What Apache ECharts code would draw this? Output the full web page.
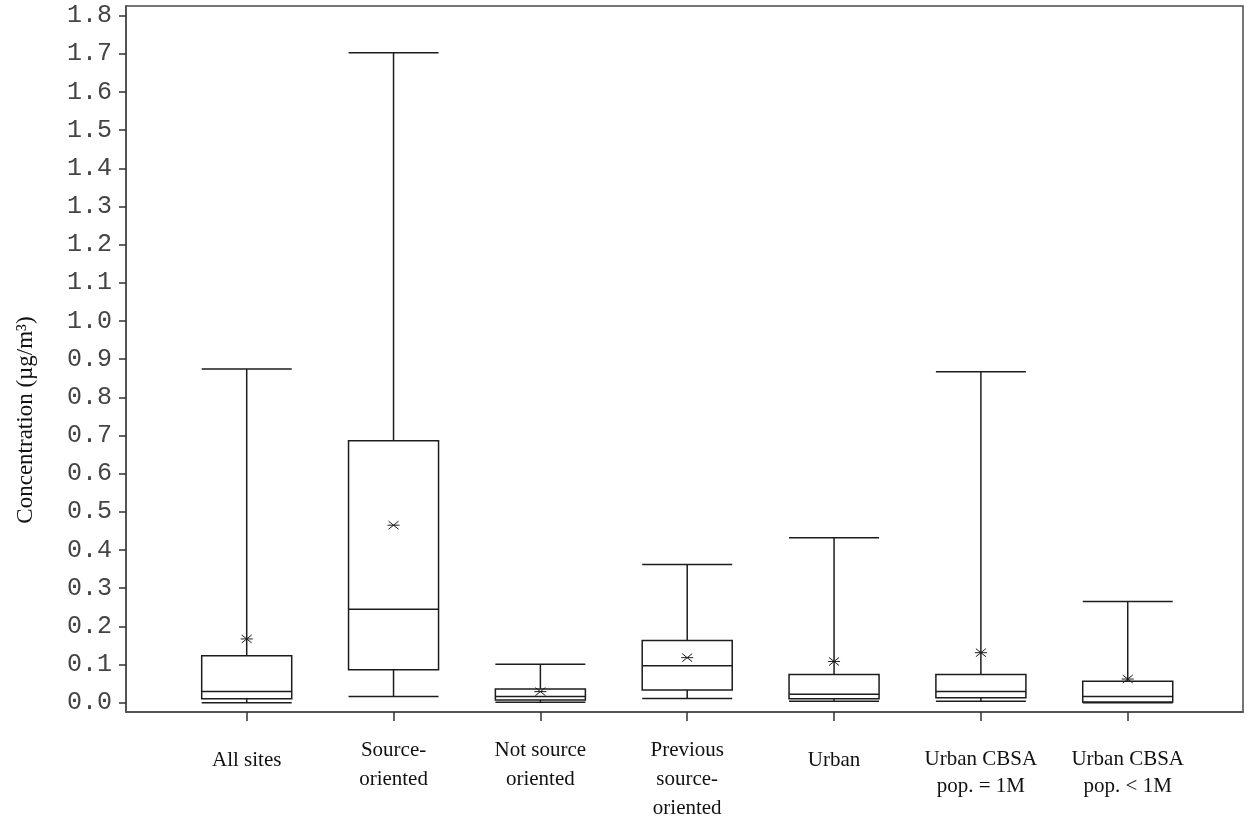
<!DOCTYPE html>
<html>
<head>
<meta charset="utf-8">
<script src="https://cdn.jsdelivr.net/npm/echarts@6/dist/echarts.min.js"></script>
<style>
  html, body { margin: 0; padding: 0; background: #fff; }
  #chart { width: 1247px; height: 822px; }
</style>
</head>
<body>
<div id="chart"></div>
<script>
// Site groups along the horizontal axis
const categories = [
  'All sites',
  'Source-\noriented',
  'Not source\noriented',
  'Previous\nsource-\noriented',
  'Urban',
  'Urban CBSA\npop. = 1M',
  'Urban CBSA\npop. < 1M'
];

// Box statistics per group (µg/m³)
const whiskerLow  = [0.000, 0.016, 0.001, 0.011, 0.004, 0.004, 0.000];
const q1          = [0.010, 0.086, 0.007, 0.033, 0.010, 0.013, 0.002];
const median      = [0.029, 0.245, 0.016, 0.097, 0.022, 0.029, 0.016];
const q3          = [0.123, 0.686, 0.036, 0.163, 0.074, 0.074, 0.056];
const whiskerHigh = [0.874, 1.703, 0.101, 0.362, 0.432, 0.867, 0.265];
const mean        = [0.167, 0.465, 0.029, 0.118, 0.108, 0.131, 0.062];

// Y tick values
const yTicks = [0.0, 0.1, 0.2, 0.3, 0.4, 0.5, 0.6, 0.7, 0.8, 0.9,
                1.0, 1.1, 1.2, 1.3, 1.4, 1.5, 1.6, 1.7, 1.8];

const positions = categories.map((_, i) => i + 1);
const boxData = positions.map((p, i) =>
  [p, whiskerLow[i], q1[i], median[i], q3[i], whiskerHigh[i], mean[i]]);

const INK = '#1c1c1c';
const BOX_WIDTH = 0.613;

function renderBox(params, api) {
  const x = api.value(0);
  const pLow = api.coord([x, api.value(1)]);
  const pQ1 = api.coord([x, api.value(2)]);
  const pMed = api.coord([x, api.value(3)]);
  const pQ3 = api.coord([x, api.value(4)]);
  const pHigh = api.coord([x, api.value(5)]);
  const pMean = api.coord([x, api.value(6)]);
  const half = api.size([BOX_WIDTH, 0])[0] / 2;
  const cx = pMed[0];
  const ls = { stroke: INK, lineWidth: 1.5, fill: null };
  const line = (x1, y1, x2, y2) => ({ type: 'line', shape: { x1, y1, x2, y2 }, style: ls });
  const children = [
    // whiskers
    line(cx, pQ3[1], cx, pHigh[1]),
    line(cx, pQ1[1], cx, pLow[1]),
    // caps
    line(cx - half, pHigh[1], cx + half, pHigh[1]),
    line(cx - half, pLow[1], cx + half, pLow[1]),
    // box
    { type: 'rect', shape: { x: cx - half, y: pQ3[1], width: half * 2, height: pQ1[1] - pQ3[1] },
      style: { stroke: INK, lineWidth: 1.5, fill: '#fff' } },
    // median
    line(cx - half, pMed[1], cx + half, pMed[1]),
    // mean asterisk
    { type: 'line', shape: { x1: cx - 6, y1: pMean[1], x2: cx + 6, y2: pMean[1] }, style: { stroke: INK, lineWidth: 1 } },
    { type: 'line', shape: { x1: cx - 5, y1: pMean[1] - 4, x2: cx + 5, y2: pMean[1] + 4 }, style: { stroke: INK, lineWidth: 1 } },
    { type: 'line', shape: { x1: cx - 5, y1: pMean[1] + 4, x2: cx + 5, y2: pMean[1] - 4 }, style: { stroke: INK, lineWidth: 1 } }
  ];
  return { type: 'group', children };
}

function xLabel(v) {
  const text = categories[Math.round(v) - 1];
  if (text === undefined) return '';
  const lines = text.split('\n');
  if (lines.length === 1) return '{g| }\n{t|' + text + '}';
  if (text.startsWith('Urban CBSA')) return '{g| }\n' + lines.map(l => '{c|' + l + '}').join('\n');
  return lines.map(l => '{t|' + l + '}').join('\n');
}

const chart = echarts.init(document.getElementById('chart'), null, { renderer: 'canvas' });
chart.setOption({
  animation: false,
  backgroundColor: '#fff',
  grid: {
    left: 126, top: 6, width: 1117, height: 706,
    show: true, borderColor: '#4a4a4a', borderWidth: 1.5, backgroundColor: 'transparent'
  },
  xAxis: {
    type: 'value',
    min: 0.178, max: 7.785,
    splitLine: { show: false },
    axisLine: { show: true, onZero: false, lineStyle: { color: '#4a4a4a', width: 1.5 } },
    axisTick: { show: true, inside: false, length: 9, customValues: positions,
      lineStyle: { color: '#333', width: 1.5 } },
    axisLabel: {
      customValues: positions,
      margin: 24,
      verticalAlign: 'top',
      formatter: xLabel,
      rich: {
        g: { lineHeight: 10, fontSize: 10 },
        t: { fontFamily: 'Liberation Serif', fontSize: 21, lineHeight: 29, color: '#111' },
        c: { fontFamily: 'Liberation Serif', fontSize: 21, lineHeight: 27, color: '#111' }
      }
    }
  },
  yAxis: {
    type: 'value',
    min: -0.0244, max: 1.8253,
    splitLine: { show: false },
    axisLine: { show: true, onZero: false, lineStyle: { color: '#4a4a4a', width: 1.5 } },
    axisTick: { show: true, inside: false, length: 7, customValues: yTicks,
      lineStyle: { color: '#333', width: 1.5 } },
    axisLabel: {
      customValues: yTicks,
      margin: 14,
      formatter: v => v.toFixed(1),
      fontFamily: 'Liberation Mono',
      fontSize: 25,
      color: '#444'
    }
  },
  graphic: [{
    type: 'text',
    x: 26, y: 420,
    rotation: Math.PI / 2,
    style: {
      text: 'Concentration (µg/m³)',
      fontFamily: 'Liberation Serif',
      fontSize: 23,
      fill: '#111',
      textAlign: 'center',
      textVerticalAlign: 'middle'
    }
  }],
  series: [{
    type: 'custom',
    renderItem: renderBox,
    data: boxData,
    encode: { x: 0, y: [1, 2, 3, 4, 5, 6] },
    clip: false
  }]
});
</script>
</body>
</html>
